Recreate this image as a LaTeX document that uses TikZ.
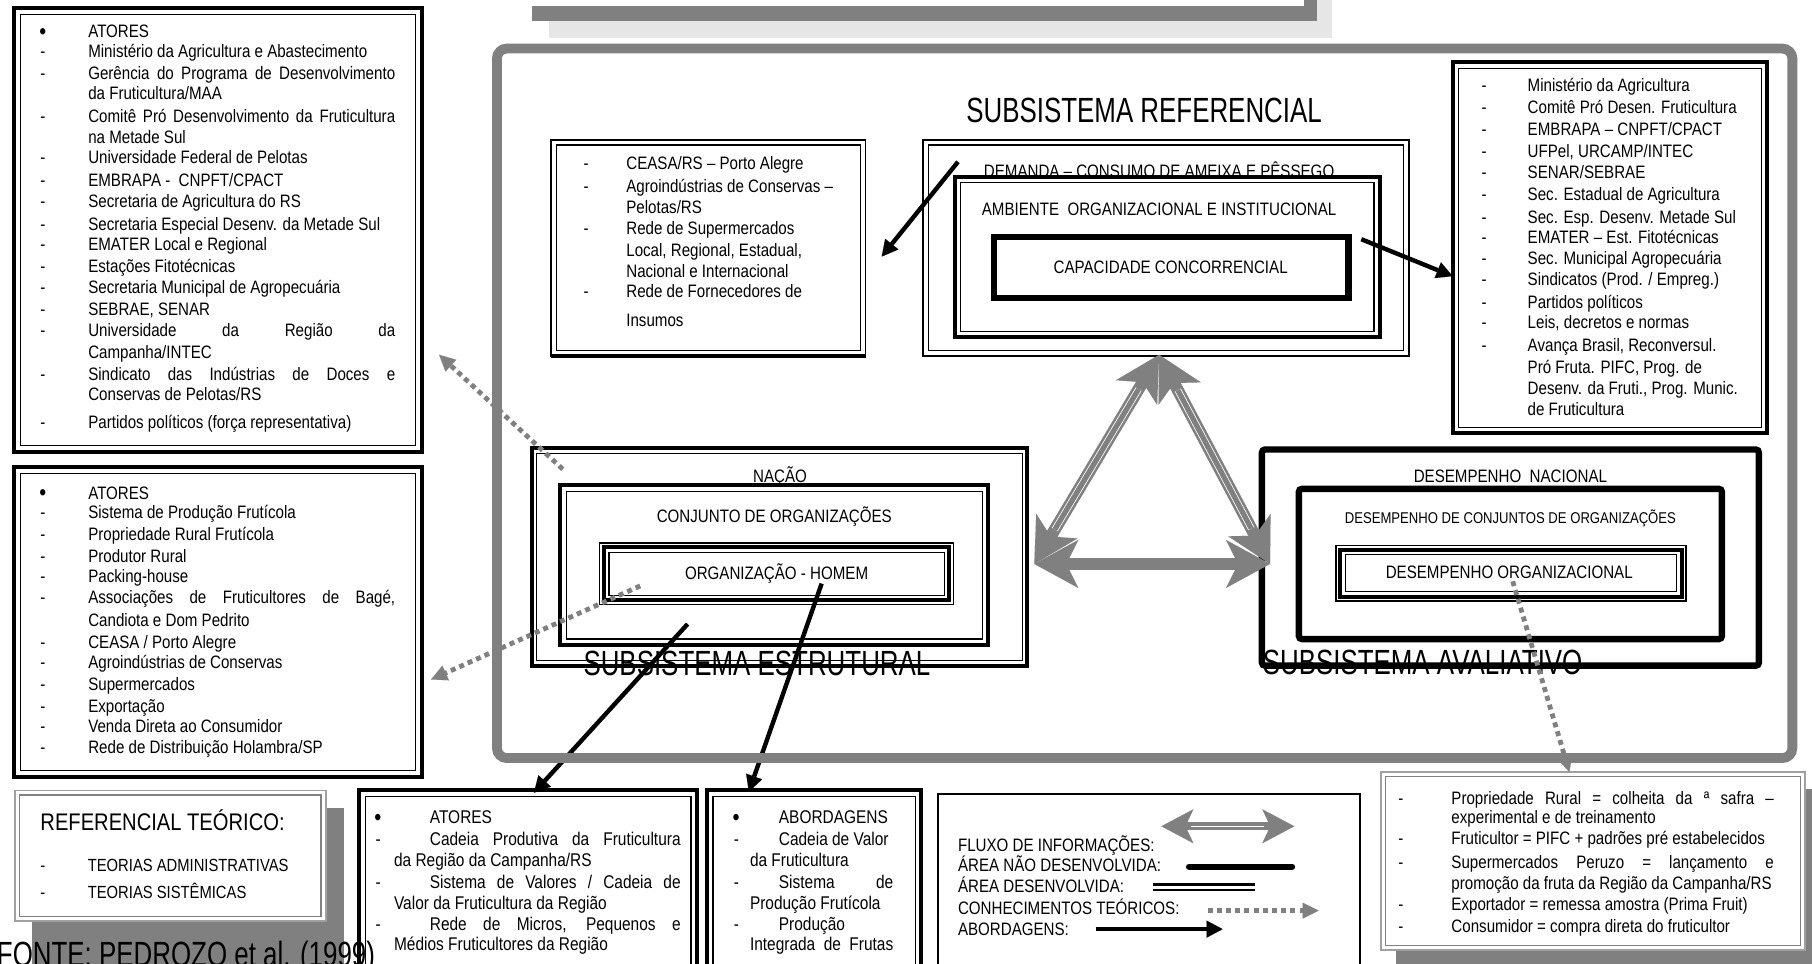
\documentclass[tikz,border=0pt]{standalone}
\usepackage{fontspec}
\setmainfont{Liberation Sans}[FakeStretch=0.84]
\newfontfamily\narrowfont{Liberation Sans}[FakeStretch=0.74]
\usetikzlibrary{arrows.meta,fit}
\definecolor{frgray}{HTML}{808080}
\definecolor{ltgray}{HTML}{E6E6E6}
\definecolor{edgegray}{HTML}{A0A0A0}
\newlength\unitpx
\setlength\unitpx{0.5778pt}
% justified single line of a given width (in picture units)
\newcommand\just[2]{\makebox[#1\unitpx][s]{#2}}
\newcommand\bul{\raisebox{-0.2ex}{\scalebox{1.3}{•}}}
\newcommand\mainsize{\fontsize{9}{11}\selectfont}
\newcommand\smallsize{\fontsize{7.8}{9}\selectfont}
\newcommand\botsize{\fontsize{9.2}{11}\selectfont}
\newcommand\refsize{\fontsize{12}{14}\selectfont}
\newcommand\teosize{\fontsize{8.8}{10}\selectfont}
\newcommand\titlesize{\fontsize{17.5}{20}\selectfont\narrowfont}
% framed box from two corners
\newcommand\boxat[4]{\node[fit={#3 #4}, inner sep=0pt, outer sep=0pt, #2] (#1) {};}
% extra rectangle inset inside a framed box
\newcommand\insetline[3]{\draw[#3] ([shift={(#2,#2)}]#1.north west) rectangle ([shift={(-#2,-#2)}]#1.south east);}
% list line with a leading dash, and a plain list line
\newcommand\dline[5]{\node[li] (#1d) at (#2,#4) {-}; \node[li] (#1) at (#3,#4) {#5};}
\newcommand\tline[4]{\node[li] (#1) at (#2,#3) {#4};}
\begin{document}
\begin{tikzpicture}[x=0.5778pt, y=-0.5778pt,
  txt/.style={inner sep=0pt, outer sep=0pt, font=\mainsize},
  li/.style={txt, anchor=base west, yshift=-2.8pt},
  caps/.style={txt, anchor=base, yshift=-3.2pt},
  capsS/.style={inner sep=0pt, font=\smallsize, anchor=base, yshift=-2.8pt},
  title/.style={inner sep=0pt, font=\titlesize, anchor=base, yshift=-6.3pt},
  thinframe/.style={draw, line width=0.9pt},
  heavyframe/.style={draw, line width=2pt},
  boldframe/.style={draw, line width=3.2pt, rounded corners=1.5pt},
  hair/.style={draw, line width=0.6pt},
  grayframe/.style={draw=edgegray, line width=0.8pt, fill=white},
  shadowfill/.style={fill=frgray},
  abord/.style={draw, line width=2.2pt, -{Triangle[length=8pt 0, width=8.5pt 0, line width=0.01pt]}},
  teor/.style={draw=frgray, line width=2.4pt, dash pattern=on 2.5pt off 2.1pt, -{Triangle[length=8pt 0, width=8pt 0, line width=0.01pt]}},
  flow/.style={draw=frgray, line width=6pt,
    {Stealth[length=22pt 0, width=24pt 0, inset=6pt 0, line width=0.01pt]}-{Stealth[length=22pt 0, width=24pt 0, inset=6pt 0, line width=0.01pt]}},
  flowcore/.style={draw=white, line width=0.4pt, double=frgray, double distance=2.6pt, shorten <=20pt, shorten >=20pt},
  flowS/.style={draw=frgray, line width=4pt,
    {Stealth[length=16pt 0, width=17pt 0, inset=4pt 0, line width=0.01pt]}-{Stealth[length=16pt 0, width=17pt 0, inset=4pt 0, line width=0.01pt]}},
  flowScore/.style={draw=white, line width=0.6pt, shorten <=15pt, shorten >=15pt},
]
\path[use as bounding box] (0,0) rectangle (1568,834);
\clip (0,0) rectangle (1568,834);

% ---- box partly above the page, with its two shadows
\fill[ltgray] (475,-20) rectangle (1153,33);
\fill[frgray] (460,-20) rectangle (1140,18);
\fill[white] (440,-20) rectangle (1128,5);

% ---- actors (institutional)
\boxat{act1}{heavyframe}{(12,7)}{(365,391)}
\insetline{act1}{5.5}{hair}
\node[li] (a1bul) at (34,28) {\bul};
\tline{a1h}{76.4}{28}{ATORES}
\dline{a1l1}{35}{76.4}{44.7}{Ministério da Agricultura e Abastecimento}
\dline{a1l2}{35}{76.4}{64}{\just{265.6}{Gerência do Programa de Desenvolvimento}}
\tline{a1l2b}{76.4}{81.6}{da Fruticultura/MAA}
\dline{a1l3}{35}{76.4}{101}{\just{265.6}{Comitê Pró Desenvolvimento da Fruticultura}}
\tline{a1l3b}{76.4}{119}{na Metade Sul}
\dline{a1l4}{35}{76.4}{137}{Universidade Federal de Pelotas}
\dline{a1l5}{35}{76.4}{156.6}{EMBRAPA -\ \ CNPFT/CPACT}
\dline{a1l6}{35}{76.4}{175}{Secretaria de Agricultura do RS}
\dline{a1l7}{35}{76.4}{195}{Secretaria Especial Desenv. da Metade Sul}
\dline{a1l8}{35}{76.4}{212}{EMATER Local e Regional}
\dline{a1l9}{35}{76.4}{231}{Estações Fitotécnicas}
\dline{a1l10}{35}{76.4}{249.5}{Secretaria Municipal de Agropecuária}
\dline{a1l11}{35}{76.4}{268}{SEBRAE, SENAR}
\dline{a1l12}{35}{76.4}{286}{\just{265.6}{Universidade da Região da}}
\tline{a1l12b}{76.4}{305}{Campanha/INTEC}
\dline{a1l13}{35}{76.4}{324.5}{\just{265.6}{Sindicato das Indústrias de Doces e}}
\tline{a1l13b}{76.4}{342}{Conservas de Pelotas/RS}
\dline{a1l14}{35}{76.4}{366}{Partidos políticos (força representativa)}

% ---- actors (production chain)
\boxat{act2}{heavyframe}{(12,404)}{(365,672)}
\insetline{act2}{5.5}{hair}
\node[li] (a2bul) at (34,427) {\bul};
\tline{a2h}{76.4}{427}{ATORES}
\dline{a2l1}{35}{76.4}{444}{Sistema de Produção Frutícola}
\dline{a2l2}{35}{76.4}{463}{Propriedade Rural Frutícola}
\dline{a2l3}{35}{76.4}{481.5}{Produtor Rural}
\dline{a2l4}{35}{76.4}{499}{Packing-house}
\dline{a2l5}{35}{76.4}{517.8}{\just{265.6}{Associações de Fruticultores de Bagé,}}
\tline{a2l5b}{76.4}{537.4}{Candiota e Dom Pedrito}
\dline{a2l6}{35}{76.4}{556}{CEASA / Porto Alegre}
\dline{a2l7}{35}{76.4}{573.5}{Agroindústrias de Conservas}
\dline{a2l8}{35}{76.4}{592.8}{Supermercados}
\dline{a2l9}{35}{76.4}{611.5}{Exportação}
\dline{a2l10}{35}{76.4}{629}{Venda Direta ao Consumidor}
\dline{a2l11}{35}{76.4}{647.6}{Rede de Distribuição Holambra/SP}

% ---- theoretical references
\fill[shadowfill] (28,699) rectangle (298,850);
\boxat{reft}{grayframe}{(13,684)}{(282,797)}
\insetline{reft}{4}{draw=frgray, line width=0.8pt}
\node[txt, font=\refsize, anchor=base west, yshift=-4.3pt] (refth) at (35,711) {REFERENCIAL TEÓRICO:};
\node[txt, font=\teosize, anchor=base west, yshift=-3.1pt] (reft1d) at (35,749) {-};
\node[txt, font=\teosize, anchor=base west, yshift=-3.1pt] (reft1) at (76,749) {TEORIAS ADMINISTRATIVAS};
\node[txt, font=\teosize, anchor=base west, yshift=-3.1pt] (reft2d) at (35,772) {-};
\node[txt, font=\teosize, anchor=base west, yshift=-3.1pt] (reft2) at (76,772) {TEORIAS SISTÊMICAS};
\node[inner sep=0pt, font=\titlesize, anchor=base west] (src) at (-3,836) {FONTE: PEDROZO et al. (1999)};

% ---- actors (regional chain)
\boxat{act3}{heavyframe}{(311,684)}{(603,870)}
\insetline{act3}{5}{hair}
\begin{scope}[li/.append style={font=\botsize}]
\node[li] (a3bul) at (324,708) {\bul};
\tline{a3h}{372}{708}{ATORES}
\dline{a3l1}{325}{372}{727}{\just{217}{Cadeia Produtiva da Fruticultura}}
\tline{a3l1b}{341}{745}{da Região da Campanha/RS}
\dline{a3l2}{325}{372}{764}{\just{217}{Sistema de Valores / Cadeia de}}
\tline{a3l2b}{341}{782}{Valor da Fruticultura da Região}
\dline{a3l3}{325}{372}{800}{\just{217}{Rede de Micros, Pequenos e}}
\tline{a3l3b}{341}{818}{Médios Fruticultores da Região}

% ---- approaches
\boxat{appr}{heavyframe}{(612,684)}{(797,870)}
\insetline{appr}{5}{hair}
\node[li] (b0bul) at (634,708) {\bul};
\tline{b0h}{674}{708}{ABORDAGENS}
\dline{b1}{635}{674}{727}{Cadeia de Valor}
\tline{b1b}{649}{745}{da Fruticultura}
\dline{b2}{635}{674}{764}{\just{99}{Sistema de}}
\tline{b2b}{649}{782}{Produção Frutícola}
\dline{b3}{635}{674}{800}{Produção}
\tline{b3b}{649}{818}{\just{124}{Integrada de Frutas}}
\end{scope}

% ---- legend
\boxat{leg}{draw, line width=1pt}{(812,687)}{(1177,870)}
\node[caps, anchor=base west] (lgt1) at (829,731) {FLUXO DE INFORMAÇÕES:};
\node[caps, anchor=base west] (lgt2) at (829,749) {ÁREA NÃO DESENVOLVIDA:};
\node[caps, anchor=base west] (lgt3) at (829,767) {ÁREA DESENVOLVIDA:};
\node[caps, anchor=base west] (lgt4) at (829,786) {CONHECIMENTOS TEÓRICOS:};
\node[caps, anchor=base west] (lgt5) at (829,804) {ABORDAGENS:};
\coordinate (lg1a) at (1005,715); \coordinate (lg1b) at (1120,715);
\draw[flowS] (lg1a) -- (lg1b);
\draw[flowScore] (lg1a) -- (lg1b);
\coordinate (lg2a) at (1029,750); \coordinate (lg2b) at (1118,750);
\draw[line width=3.2pt, line cap=round] (lg2a) -- (lg2b);
\coordinate (lg3a) at (998,765.5); \coordinate (lg3b) at (1086,765.5);
\coordinate (lg3c) at (998,770); \coordinate (lg3d) at (1086,770);
\draw[line width=1.5pt] (lg3a) -- (lg3b);
\draw[line width=0.9pt] (lg3c) -- (lg3d);
\coordinate (lg4a) at (1045,788); \coordinate (lg4b) at (1141,788);
\draw[teor] (lg4a) -- (lg4b);
\coordinate (lg5a) at (948,804); \coordinate (lg5b) at (1058,804);
\draw[abord] (lg5a) -- (lg5b);

% ---- results of the implementation
\fill[shadowfill] (1208,683) rectangle (1580,850);
\boxat{impl}{grayframe}{(1195,668)}{(1562,822)}
\insetline{impl}{4}{draw=frgray, line width=0.8pt}
\dline{c1}{1210}{1256}{691}{\just{279}{Propriedade Rural = colheita da ª safra –}}
\tline{c1b}{1256}{708}{experimental e de treinamento}
\dline{c2}{1210}{1256}{726}{Fruticultor = PIFC + padrões pré estabelecidos}
\dline{c3}{1210}{1256}{747}{\just{279}{Supermercados Peruzo = lançamento e}}
\tline{c3b}{1256}{765}{promoção da fruta da Região da Campanha/RS}
\dline{c4}{1210}{1256}{783}{Exportador = remessa amostra (Prima Fruit)}
\dline{c5}{1210}{1256}{802}{Consumidor = compra direta do fruticultor}

% ---- referential subsystem
\node[title] (tref) at (990,95) {SUBSISTEMA REFERENCIAL};
\boxat{mkt}{thinframe}{(477,121)}{(749,308)}
\insetline{mkt}{4.5}{hair}
\draw[line width=1.6pt] (mkt.south west) -- (mkt.south east);
\dline{m1}{505}{542}{142}{CEASA/RS – Porto Alegre}
\dline{m2}{505}{542}{162}{Agroindústrias de Conservas –}
\tline{m2b}{542}{180}{Pelotas/RS}
\dline{m3}{505}{542}{198}{Rede de Supermercados}
\tline{m3b}{542}{217}{Local, Regional, Estadual,}
\tline{m3c}{542}{235}{Nacional e Internacional}
\dline{m4}{505}{542}{253}{Rede de Fornecedores de}
\tline{m4b}{542}{278}{Insumos}

\boxat{dem}{thinframe}{(799,121)}{(1219,308)}
\insetline{dem}{4.5}{hair}
\node[caps] (demt) at (1003,148) {DEMANDA – CONSUMO DE AMEIXA E PÊSSEGO};
\boxat{amb}{heavyframe}{(826,153)}{(1194,292)}
\insetline{amb}{5}{hair}
\node[caps] (ambt) at (1003,181) {AMBIENTE\ \ ORGANIZACIONAL E INSTITUCIONAL};
\boxat{capb}{draw, line width=3.2pt}{(860,205)}{(1167,258)}
\node[caps] (capt) at (1013,231) {CAPACIDADE CONCORRENCIAL};

\boxat{rlist}{heavyframe}{(1257,54)}{(1529,375)}
\insetline{rlist}{5}{hair}
\dline{r1}{1282}{1322}{74.4}{Ministério da Agricultura}
\dline{r2}{1282}{1322}{93.7}{Comitê Pró Desen. Fruticultura}
\dline{r3}{1282}{1322}{112.5}{EMBRAPA – CNPFT/CPACT}
\dline{r4}{1282}{1322}{131.2}{UFPel, URCAMP/INTEC}
\dline{r5}{1282}{1322}{150}{SENAR/SEBRAE}
\dline{r6}{1282}{1322}{168.7}{Sec. Estadual de Agricultura}
\dline{r7}{1282}{1322}{188.4}{Sec. Esp. Desenv. Metade Sul}
\dline{r8}{1282}{1322}{205.7}{EMATER – Est. Fitotécnicas}
\dline{r9}{1282}{1322}{224.4}{Sec. Municipal Agropecuária}
\dline{r10}{1282}{1322}{242.3}{Sindicatos (Prod. / Empreg.)}
\dline{r11}{1282}{1322}{261.9}{Partidos políticos}
\dline{r12}{1282}{1322}{279.8}{Leis, decretos e normas}
\dline{r13}{1282}{1322}{299.4}{Avança Brasil, Reconversul.}
\tline{r13b}{1322}{318.2}{Pró Fruta. PIFC, Prog. de}
\tline{r13c}{1322}{336.9}{Desenv. da Fruti., Prog. Munic.}
\tline{r13d}{1322}{354.8}{de Fruticultura}

% ---- structural subsystem
\boxat{nac}{heavyframe}{(460,388)}{(889,576)}
\insetline{nac}{4.5}{hair}
\node[caps] (nact) at (675,412) {NAÇÃO};
\boxat{conj}{heavyframe}{(485,420)}{(855,558)}
\insetline{conj}{5}{hair}
\node[caps] (conjt) at (670,447) {CONJUNTO DE ORGANIZAÇÕES};
\boxat{org}{draw, line width=0.7pt}{(519,470)}{(825,523)}
\insetline{org}{3.5}{line width=2pt}
\insetline{org}{8}{hair}
\node[caps] (orgt) at (672,496) {ORGANIZAÇÃO - HOMEM};
\node[title] (test) at (655,574) {SUBSISTEMA ESTRUTURAL};

% ---- evaluative subsystem
\boxat{dnac}{boldframe}{(1092,389)}{(1522,576)}
\node[caps] (dnact) at (1307,412) {DESEMPENHO\ \ NACIONAL};
\boxat{dconj}{boldframe}{(1124,423)}{(1490,553)}
\node[capsS] (dconjt) at (1307,448) {DESEMPENHO DE CONJUNTOS DE ORGANIZAÇÕES};
\boxat{dorg}{draw, line width=0.7pt}{(1156,472)}{(1459,520)}
\insetline{dorg}{3.5}{line width=2pt}
\insetline{dorg}{8}{hair}
\node[caps] (dorgt) at (1306,495) {DESEMPENHO ORGANIZACIONAL};
\node[title] (tava) at (1231,573) {SUBSISTEMA AVALIATIVO};

% ---- approaches (black arrows)
\coordinate (p-dem) at (829,140); \coordinate (p-mkt) at (763,222);
\draw[abord] (p-dem) -- (p-mkt);
\coordinate (p-amb) at (1178,207); \coordinate (p-rl) at (1257,239);
\draw[abord] (p-amb) -- (p-rl);
\coordinate (p-org1) at (595,540); \coordinate (p-act3) at (462,686);
\draw[abord] (p-org1) -- (p-act3);
\coordinate (p-org2) at (711,505); \coordinate (p-appr) at (648,685);
\draw[abord] (p-org2) -- (p-appr);

% ---- theoretical knowledge (dotted arrows)
\coordinate (q-nac) at (487,406); \coordinate (q-act1) at (380,307);
\draw[teor] (q-nac) -- (q-act1);
\coordinate (q-org) at (554,507); \coordinate (q-act2) at (373,588);
\draw[teor] (q-org) -- (q-act2);
\coordinate (q-dorg) at (1309,503); \coordinate (q-impl) at (1358,668);
\draw[teor] (q-dorg) -- (q-impl);

% ---- outer system frame
\boxat{sys}{draw=frgray, line width=4.9pt, rounded corners=5pt}{(430,42)}{(1551,656)}

% ---- information flow triangle
\coordinate (v-top) at (1003,307);
\coordinate (v-left) at (895,488);
\coordinate (v-right) at (1099,488);
\draw[flow] (v-top) -- (v-left);
\draw[flowcore] (v-top) -- (v-left);
\draw[flow] (v-top) -- (v-right);
\draw[flowcore] (v-top) -- (v-right);
\draw[flow] (v-left) -- (v-right);
\draw[flowcore] (v-left) -- (v-right);
\end{tikzpicture}
\end{document}
